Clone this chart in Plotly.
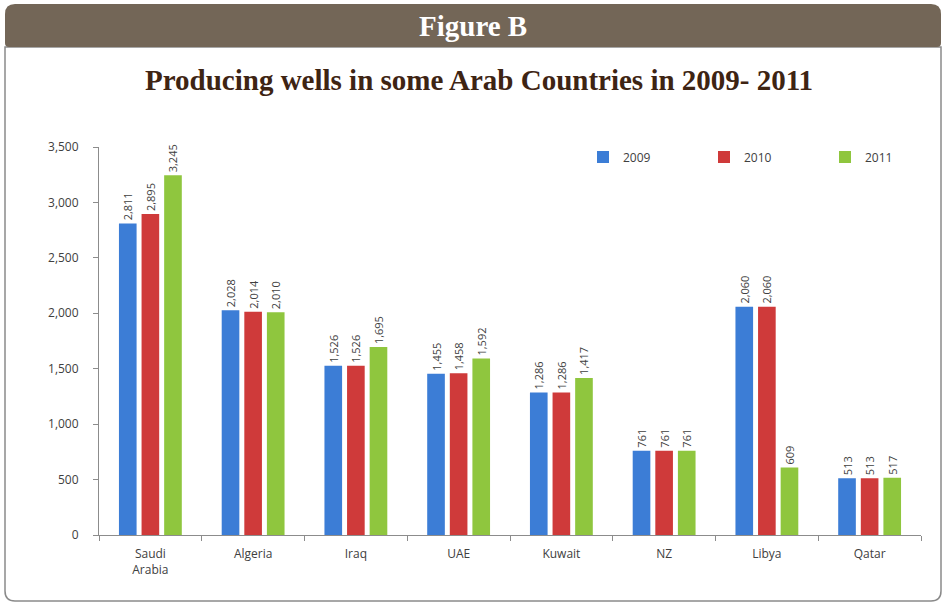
import plotly.graph_objects as go

countries = ["Saudi<br>Arabia", "Algeria", "Iraq", "UAE", "Kuwait", "NZ", "Libya", "Qatar"]
years = ["2009", "2010", "2011"]
wells_2009 = [2811, 2028, 1526, 1455, 1286, 761, 2060, 513]
wells_2010 = [2895, 2014, 1526, 1458, 1286, 761, 2060, 513]
wells_2011 = [3245, 2010, 1695, 1592, 1417, 761, 609, 517]
series = [wells_2009, wells_2010, wells_2011]
colors = ["#3c7dd6", "#cf3a3a", "#8fc63e"]

W, H = 946, 606
ML, MR, MT, MB = 99, 25, 147, 71
PW, PH = W - ML - MR, H - MT - MB

def px(x):
    return (x - ML) / PW

def py(y):
    return (H - MB - y) / PH

def rrect(x0, y0, x1, y1, rt, rb):
    pts = []
    pts.append(f"M {px(x0 + rt)} {py(y0)}")
    pts.append(f"L {px(x1 - rt)} {py(y0)}")
    pts.append(f"Q {px(x1)} {py(y0)} {px(x1)} {py(y0 + rt)}")
    pts.append(f"L {px(x1)} {py(y1 - rb)}")
    pts.append(f"Q {px(x1)} {py(y1)} {px(x1 - rb)} {py(y1)}")
    pts.append(f"L {px(x0 + rb)} {py(y1)}")
    pts.append(f"Q {px(x0)} {py(y1)} {px(x0)} {py(y1 - rb)}")
    pts.append(f"L {px(x0)} {py(y0 + rt)}")
    pts.append(f"Q {px(x0)} {py(y0)} {px(x0 + rt)} {py(y0)}")
    pts.append("Z")
    return " ".join(pts)

fig = go.Figure()
for yr, vals, c in zip(years, series, colors):
    fig.add_trace(go.Bar(
        x=countries, y=vals, name=yr,
        marker=dict(color=c, line=dict(width=0)),
        texttemplate="%{y:,}", textposition="outside", textangle=-90,
        constraintext="none",
        textfont=dict(family="Open Sans", size=11, color="#404040"),
        cliponaxis=False,
    ))

fig.update_layout(
    width=W, height=H,
    margin=dict(l=ML, r=MR, t=MT, b=MB, autoexpand=False),
    paper_bgcolor="white", plot_bgcolor="white",
    barmode="group", bargap=0.34, bargroupgap=0.22,
    font=dict(family="Open Sans", size=11, color="#404040"),
    showlegend=True,
    legend=dict(orientation="h", x=px(583), y=py(157), xanchor="left", yanchor="middle",
                entrywidth=76, entrywidthmode="pixels",
                font=dict(family="Open Sans", size=12, color="#404040"),
                bgcolor="rgba(0,0,0,0)", itemwidth=30),
    xaxis=dict(showline=True, linecolor="#8c8c8c", linewidth=1, ticks="outside",
               tickson="boundaries", ticklen=5, tickcolor="#8c8c8c",
               tickfont=dict(family="Open Sans", size=12, color="#404040"),
               ticklabelstandoff=8, showgrid=False),
    yaxis=dict(range=[0, 3500], dtick=500, tickformat=",", showline=True,
               linecolor="#8c8c8c", linewidth=1, ticks="outside", ticklen=5,
               tickcolor="#8c8c8c", showgrid=False, zeroline=False,
               ticklabelstandoff=12,
               tickfont=dict(family="Open Sans", size=12, color="#404040")),
    shapes=[
        dict(type="path", xref="paper", yref="paper", path=rrect(5, 47, 941, 601, 0, 10),
             line=dict(color="#8a8a8a", width=1.5), fillcolor="rgba(0,0,0,0)", layer="below"),
        dict(type="path", xref="paper", yref="paper", path=rrect(5, 4, 941, 47, 10, 4),
             line=dict(width=0), fillcolor="#736657", layer="below"),
    ],
    annotations=[
        dict(text="<b>Figure B</b>", xref="paper", yref="paper", x=px(473), y=py(26),
             xanchor="center", yanchor="middle", showarrow=False,
             font=dict(family="Liberation Serif", size=29, color="white")),
        dict(text="<b>Producing wells in some Arab Countries in 2009- 2011</b>", xref="paper",
             yref="paper", x=px(479), y=py(80), xanchor="center", yanchor="middle",
             showarrow=False, font=dict(family="Liberation Serif", size=29, color="#3e2413")),
    ],
)

fig.write_html("out.html", config={"displayModeBar": False},
               post_script="document.body.style.margin='0';")
